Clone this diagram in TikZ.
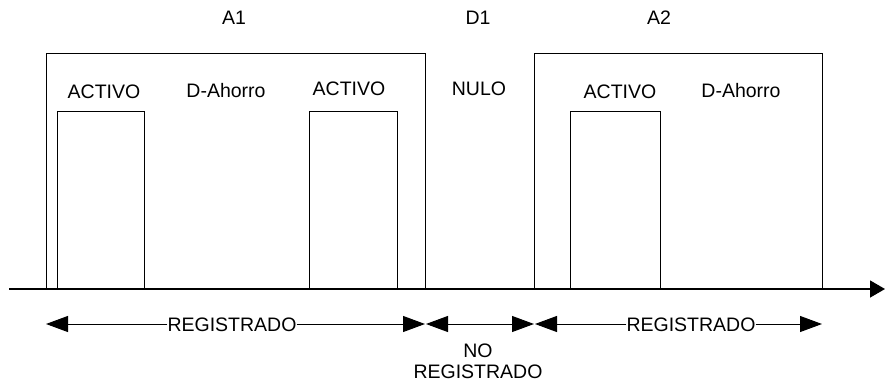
\documentclass[tikz,border=0pt]{standalone}
\usepackage{fontspec}
\setmainfont{Liberation Sans}
\usetikzlibrary{positioning,arrows.meta}

\begin{document}
\begin{tikzpicture}[
  x=1pt, y=-1pt,
  lbl/.style={font=\fontsize{19.5}{22}\selectfont, inner sep=0pt, anchor=base},
  frame/.style={draw, line width=1pt, anchor=south west, inner sep=0pt, minimum width=#1},
  slot/.style={draw, line width=1pt, anchor=south west, inner sep=0pt, minimum width=#1, minimum height=177pt},
  axis/.style={line width=1.4pt, -{Triangle[length=15pt,width=17pt]}},
  dim/.style={line width=1pt, -{Triangle[length=22pt,width=16pt]}}
]
\useasboundingbox (0,0) rectangle (885,383);

% time axis
\coordinate (t0) at (9,289);
\coordinate (t1) at (885,289);

% periods
\node[frame=379pt, minimum height=235pt] (perA1) at (46,289) {};
\node[frame=288pt, minimum height=235pt] (perA2) at (534,289) {};

% active slots
\node[slot=87pt] (act1) at (57,289) {};
\node[slot=88pt] (act2) at (309,289) {};
\node[slot=90pt] (act3) at (570,289) {};

\draw[axis] (t0) -- (t1);

% headers
\node[lbl] (hA1) at (234,24) {A1};
\node[lbl] (hD1) at (478,24) {D1};
\node[lbl] (hA2) at (659,24) {A2};

% states
\node[lbl] (sAct1) at (104,98) {ACTIVO};
\node[lbl] (sDah1) at (226,97) {D-Ahorro};
\node[lbl] (sAct2) at (349,95) {ACTIVO};
\node[lbl] (sNulo) at (479,95) {NULO};
\node[lbl] (sAct3) at (620,98) {ACTIVO};
\node[lbl] (sDah2) at (741,97) {D-Ahorro};

% registration spans
\coordinate (r1l) at (46,324);
\coordinate (r1r) at (425,324);
\coordinate (r2l) at (426,324);
\coordinate (r2r) at (534,324);
\coordinate (r3l) at (535,324);
\coordinate (r3r) at (822,324);

\node[lbl, anchor=center, text height=14pt, text depth=0pt] (reg1) at (232,324) {REGISTRADO};
\node[lbl, anchor=center, text height=14pt, text depth=0pt] (reg3) at (691,324) {REGISTRADO};
\node[lbl, anchor=center, align=center] (noreg) at (478,361) {NO\\[-1pt]REGISTRADO};

\draw[dim] (reg1) -- (r1l);
\draw[dim] (reg1) -- (r1r);
\draw[dim, {Triangle[length=22pt,width=16pt]}-{Triangle[length=22pt,width=16pt]}] (r2l) -- (r2r);
\draw[dim] (reg3) -- (r3l);
\draw[dim] (reg3) -- (r3r);
\end{tikzpicture}
\end{document}
